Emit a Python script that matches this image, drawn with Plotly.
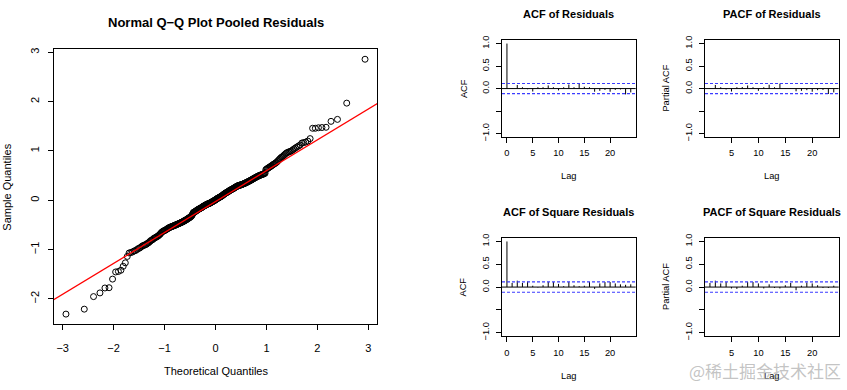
import plotly.graph_objects as go
import numpy as np
from statistics import NormalDist

W, H = 847, 390
FONT = "Liberation Sans, Arial, Helvetica, sans-serif"

# ---------------- data ----------------
# sorted pooled residuals (sample quantiles), n = 300
sample_quantiles = [
    -2.31, -2.21, -1.955, -1.88, -1.78, -1.775, -1.60, -1.455, -1.445, -1.42, -1.34, -1.27, -1.14, -1.07, -1.06,
    -1.05, -1.03, -1.02, -1.00, -0.98, -0.97, -0.95, -0.93, -0.92, -0.91, -0.90, -0.89, -0.87, -0.86, -0.84,
    -0.82, -0.81, -0.80, -0.78, -0.77, -0.76, -0.75, -0.74, -0.73, -0.72, -0.70, -0.69, -0.67, -0.65, -0.64,
    -0.63, -0.62, -0.615, -0.61, -0.60, -0.59, -0.58, -0.575, -0.565, -0.555, -0.55, -0.545, -0.54, -0.535, -0.53,
    -0.525, -0.52, -0.515, -0.51, -0.505, -0.50, -0.495, -0.49, -0.485, -0.48, -0.475, -0.47, -0.465, -0.46, -0.455,
    -0.45, -0.445, -0.44, -0.435, -0.43, -0.42, -0.415, -0.41, -0.405, -0.40, -0.39, -0.385, -0.38, -0.37, -0.365,
    -0.36, -0.35, -0.345, -0.34, -0.33, -0.32, -0.31, -0.29, -0.27, -0.25, -0.245, -0.24, -0.235, -0.23, -0.225,
    -0.215, -0.21, -0.205, -0.20, -0.19, -0.185, -0.18, -0.175, -0.17, -0.165, -0.16, -0.155, -0.15, -0.145, -0.14,
    -0.13, -0.125, -0.12, -0.115, -0.11, -0.105, -0.10, -0.095, -0.09, -0.085, -0.08, -0.075, -0.075, -0.07, -0.07,
    -0.065, -0.06, -0.055, -0.05, -0.045, -0.04, -0.035, -0.03, -0.025, -0.02, -0.015, -0.01, -0.005, 0.0, 0.005,
    0.01, 0.02, 0.025, 0.03, 0.035, 0.04, 0.045, 0.05, 0.055, 0.06, 0.065, 0.07, 0.075, 0.08, 0.085,
    0.09, 0.10, 0.105, 0.115, 0.12, 0.125, 0.13, 0.14, 0.145, 0.15, 0.155, 0.16, 0.165, 0.17, 0.175,
    0.18, 0.19, 0.195, 0.20, 0.205, 0.21, 0.215, 0.22, 0.225, 0.23, 0.235, 0.24, 0.245, 0.25, 0.26,
    0.265, 0.27, 0.275, 0.28, 0.285, 0.29, 0.295, 0.30, 0.30, 0.303, 0.306, 0.31, 0.313, 0.316, 0.32,
    0.324, 0.328, 0.332, 0.336, 0.34, 0.345, 0.35, 0.355, 0.36, 0.365, 0.37, 0.376, 0.382, 0.387, 0.393,
    0.398, 0.405, 0.41, 0.417, 0.423, 0.43, 0.437, 0.444, 0.45, 0.457, 0.463, 0.47, 0.476, 0.482, 0.488,
    0.494, 0.50, 0.505, 0.51, 0.515, 0.52, 0.525, 0.53, 0.535, 0.54, 0.55, 0.62, 0.63, 0.64, 0.65,
    0.66, 0.67, 0.68, 0.69, 0.70, 0.715, 0.725, 0.735, 0.745, 0.76, 0.77, 0.79, 0.81, 0.83, 0.85,
    0.87, 0.88, 0.90, 0.92, 0.94, 0.96, 0.97, 0.98, 0.99, 1.00, 1.02, 1.04, 1.06, 1.08, 1.10,
    1.12, 1.16, 1.17, 1.18, 1.20, 1.25, 1.46, 1.46, 1.47, 1.475, 1.48, 1.60, 1.64, 1.97, 2.86,
]

acf_lags = list(range(0, 25))
pacf_lags = list(range(1, 25))
acf_resid = [1.0, 0.01, 0.08, 0.03, -0.015, -0.065, 0.03, 0.03, 0.07, 0.03, -0.04, 0.03, 0.09,
             0.03, 0.12, 0.04, 0.03, -0.07, -0.05, -0.03, -0.07, -0.03, -0.02, -0.13, -0.085]
pacf_resid = [0.01, 0.08, 0.03, -0.02, -0.065, 0.03, 0.035, 0.07, 0.03, -0.05, 0.03, 0.085,
              0.03, 0.11, 0.01, 0.01, -0.06, -0.05, -0.035, -0.07, -0.035, -0.03, -0.12, -0.085]
acf_sq = [1.0, 0.09, 0.14, 0.09, 0.12, 0.03, -0.01, 0.04, 0.11, 0.11, 0.07, 0.02, 0.11,
          0.04, 0.02, 0.03, 0.11, -0.04, 0.08, 0.11, 0.11, 0.08, 0.06, 0.05, 0.06]
pacf_sq = [0.09, 0.14, 0.08, 0.11, -0.03, -0.04, 0.03, 0.11, 0.11, 0.08, -0.03, 0.06,
           -0.02, -0.03, 0.04, 0.09, -0.07, 0.03, 0.10, 0.08, 0.04, -0.02, -0.02, 0.03]

qq_x_ticks = [-3, -2, -1, 0, 1, 2, 3]
qq_y_ticks = [-2, -1, 0, 1, 2, 3]
acf_y_ticks = [-1.0, -0.5, 0.0, 0.5, 1.0]
acf_y_text = ["\u22121.0", "", "0.0", "0.5", "1.0"]
acf_x_ticks = [0, 5, 10, 15, 20]
pacf_x_ticks = [5, 10, 15, 20]

# ---------------- derived (as qqnorm / qqline / acf do) ----------------
n = len(sample_quantiles)
nd = NormalDist()
a_pp = 0.5 if n > 10 else 3 / 8
theoretical = [nd.inv_cdf((i + 1 - a_pp) / (n + 1 - 2 * a_pp)) for i in range(n)]
yq = np.quantile(sample_quantiles, [0.25, 0.75])
xq = [nd.inv_cdf(0.25), nd.inv_cdf(0.75)]
slope = (yq[1] - yq[0]) / (xq[1] - xq[0])
intercept = yq[0] - slope * xq[0]
clim = nd.inv_cdf(0.975) / np.sqrt(n)


def rext(lo, hi):
    d = (hi - lo) * 0.04
    return [lo - d, hi + d]


def px(x):
    return x / W


def py(y):
    return 1 - y / H


def stems(lags, vals):
    xs, ys = [], []
    for k, v in zip(lags, vals):
        xs += [k, k, None]
        ys += [0, v, None]
    return xs, ys


fig = go.Figure()

# QQ points
fig.add_trace(go.Scatter(
    x=theoretical, y=sample_quantiles, mode="markers", xaxis="x", yaxis="y",
    marker=dict(symbol="circle-open", size=6, color="black", line=dict(width=1, color="black")),
    showlegend=False, hoverinfo="skip"))
# qqline
xr_qq = rext(min(theoretical), max(theoretical))
yr_qq = rext(min(sample_quantiles), max(sample_quantiles))
lx = [xr_qq[0] - 1, xr_qq[1] + 1]
fig.add_trace(go.Scatter(
    x=lx, y=[intercept + slope * v for v in lx], mode="lines", xaxis="x", yaxis="y",
    line=dict(color="red", width=1.3), showlegend=False, hoverinfo="skip"))

panels = [
    (2, acf_lags, acf_resid, "ACF of Residuals", "ACF", (502, 635.7), (36.7, 136)),
    (3, pacf_lags, pacf_resid, "PACF of Residuals", "Partial ACF", (705, 838.7), (36.7, 136)),
    (4, acf_lags, acf_sq, "ACF of Square Residuals", "ACF", (502, 635.7), (238.7, 339.3)),
    (5, pacf_lags, pacf_sq, "PACF of Square Residuals", "Partial ACF", (705, 838.7), (238.7, 339.3)),
]

axis_common = dict(showline=True, mirror=True, linecolor="black", linewidth=1,
                   ticks="outside", ticklen=5, tickwidth=1, tickcolor="black",
                   showgrid=False, zeroline=False, fixedrange=True)

layout = dict(
    width=W, height=H, margin=dict(l=0, r=0, t=0, b=0),
    paper_bgcolor="white", plot_bgcolor="white",
    font=dict(family=FONT, color="black"),
    showlegend=False,
    xaxis=dict(domain=[px(54), px(377)], range=xr_qq, anchor="y",
               tickmode="array", tickvals=qq_x_ticks, ticklabelstandoff=9,
               tickfont=dict(size=11), **axis_common),
    yaxis=dict(domain=[py(327), py(46)], range=yr_qq, anchor="x",
               tickmode="array", tickvals=qq_y_ticks, tickangle=-90, ticklabelstandoff=5,
               tickfont=dict(size=11), **axis_common),
)

annotations = [
    dict(text="<b>Normal Q\u2212Q Plot Pooled Residuals</b>", x=px(215.5), y=py(18.5),
         font=dict(size=13)),
    dict(text="Theoretical Quantiles", x=px(215.5), y=py(375), font=dict(size=11)),
    dict(text="Sample Quantiles", x=px(7.5), y=py(187), textangle=-90, font=dict(size=11)),
]
shapes = []

for idx, lags, vals, title, ylab, (x0, x1), (y0, y1) in panels:
    xs, ys = stems(lags, vals)
    fig.add_trace(go.Scatter(x=xs, y=ys, mode="lines", xaxis=f"x{idx}", yaxis=f"y{idx}",
                             line=dict(color="black", width=1), showlegend=False,
                             hoverinfo="skip"))
    layout[f"xaxis{idx}"] = dict(domain=[px(x0), px(x1)], range=rext(min(lags), max(lags)),
                                 anchor=f"y{idx}", tickmode="array",
                                 tickvals=acf_x_ticks if min(lags) == 0 else pacf_x_ticks,
                                 ticklabelstandoff=2,
                                 tickfont=dict(size=9.3), **axis_common)
    layout[f"yaxis{idx}"] = dict(domain=[py(y1), py(y0)], range=rext(-1, 1),
                                 anchor=f"x{idx}", tickmode="array", tickvals=acf_y_ticks,
                                 ticktext=acf_y_text, tickangle=-90, ticklabelstandoff=3,
                                 tickfont=dict(size=9.3), **axis_common)
    xc = (x0 + x1) / 2
    yc = (y0 + y1) / 2
    annotations += [
        dict(text=f"<b>{title}</b>", x=px(xc), y=py(y0 - 26.5), font=dict(size=11)),
        dict(text="Lag", x=px(xc), y=py(y1 + 40), font=dict(size=9.3)),
        dict(text=ylab, x=px(x0 - 38.5 if ylab == "ACF" else x0 - 39), y=py(yc), textangle=-90,
             font=dict(size=9.3)),
    ]
    shapes.append(dict(type="line", xref=f"x{idx} domain", yref=f"y{idx}", x0=0, x1=1,
                       y0=0, y1=0, line=dict(color="black", width=1)))
    for c in (clim, -clim):
        shapes.append(dict(type="line", xref=f"x{idx} domain", yref=f"y{idx}", x0=0, x1=1,
                           y0=c, y1=c, line=dict(color="#3b3bff", width=1.2, dash="3px,2px")))

# watermark
annotations.append(dict(text="@稀土掘金技术社区", x=px(843), y=py(374), xanchor="right",
                        font=dict(size=17, family="Noto Sans CJK SC",
                                  color="rgba(170,170,170,0.7)")))

for a in annotations:
    a.setdefault("xref", "paper")
    a.setdefault("yref", "paper")
    a.setdefault("showarrow", False)
    a.setdefault("xanchor", "center")
    a.setdefault("yanchor", "middle")

layout["annotations"] = annotations
layout["shapes"] = shapes
fig.update_layout(**layout)
fig.write_html("out.html", config={"displayModeBar": False},
               post_script="document.body.style.margin='0';")
